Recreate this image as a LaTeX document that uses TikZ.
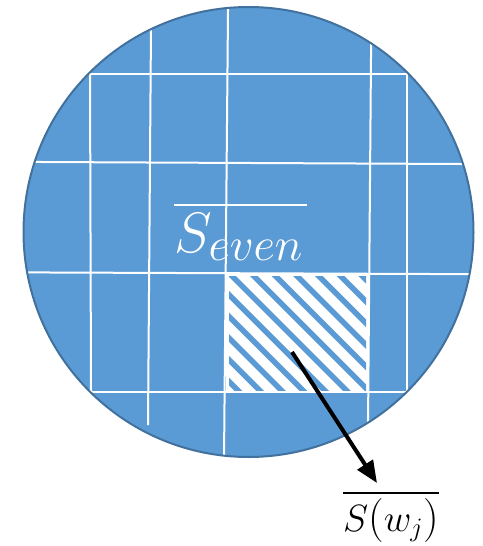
\RequirePackage{fix-cm}
\documentclass[tikz,border=0pt]{standalone}
\usetikzlibrary{arrows.meta}
\definecolor{fillblue}{HTML}{5B9BD5}
\definecolor{edgeblue}{HTML}{41719C}
\newcommand\mysubsz[1]{\mbox{\fontsize{47}{47}\selectfont$#1$}}
\newcommand\myparen[1]{\mbox{\fontsize{44}{44}\selectfont#1}}
\newcommand\myover[3]{\vbox{\hrule height #1\kern #2\hbox{#3}}}
\begin{document}
\begin{tikzpicture}[x=1pt,y=-1pt,
  gridline/.style={white,line width=2pt},
  stripe/.style={fillblue,line width=5.5pt},
  pointer/.style={black,line width=4pt,-{Triangle[length=22pt,width=18pt]}}]
\useasboundingbox (0,0) rectangle (482,546);
\coordinate (c) at (248.5,232);
\fill[fillblue] (c) circle[radius=225];
\begin{scope}
  \clip (c) circle[radius=225];
  % hatched cell
  \fill[white] (226,273) rectangle (369,392);
  \begin{scope}
    \clip (229,276) rectangle (366,390);
    \foreach \i in {-7,...,7}
      \draw[stripe] ({224+21.7*\i},268) -- ++(140,140);
  \end{scope}
  % grid lines
  \draw[gridline] (151.2,0) -- (148,425);
  \draw[gridline] (228.1,0) -- (224,460);
  \draw[gridline] (371.3,20) -- (367.9,440);
  \draw[gridline] (90,74) -- (91,392);
  \draw[gridline] (407,74) -- (407,392);
  \draw[gridline] (0,161.8) -- (482,164.1);
  \draw[gridline] (0,272.3) -- (482,274.2);
  \draw[gridline] (90,74) -- (407,74);
  \draw[gridline] (90,392) -- (407,392);
\end{scope}
\draw[edgeblue,line width=2pt] (c) circle[radius=225];
\node[text=white,anchor=base west,inner sep=0pt,font=\fontsize{57}{60}\selectfont] (seven) at (174,252)
  {\myover{2.6pt}{6.7pt}{$S_{\mysubsz{even}}$\kern4pt}};
\node[anchor=base west,inner sep=0pt,font=\fontsize{38}{40}\selectfont] (swj) at (343,531)
  {\myover{2pt}{4pt}{$S\myparen{(}w_j\myparen{)}$}};
\coordinate (src) at (292,352);
\coordinate (tip) at (377,483);
\draw[pointer] (src) -- (tip);
\end{tikzpicture}
\end{document}
